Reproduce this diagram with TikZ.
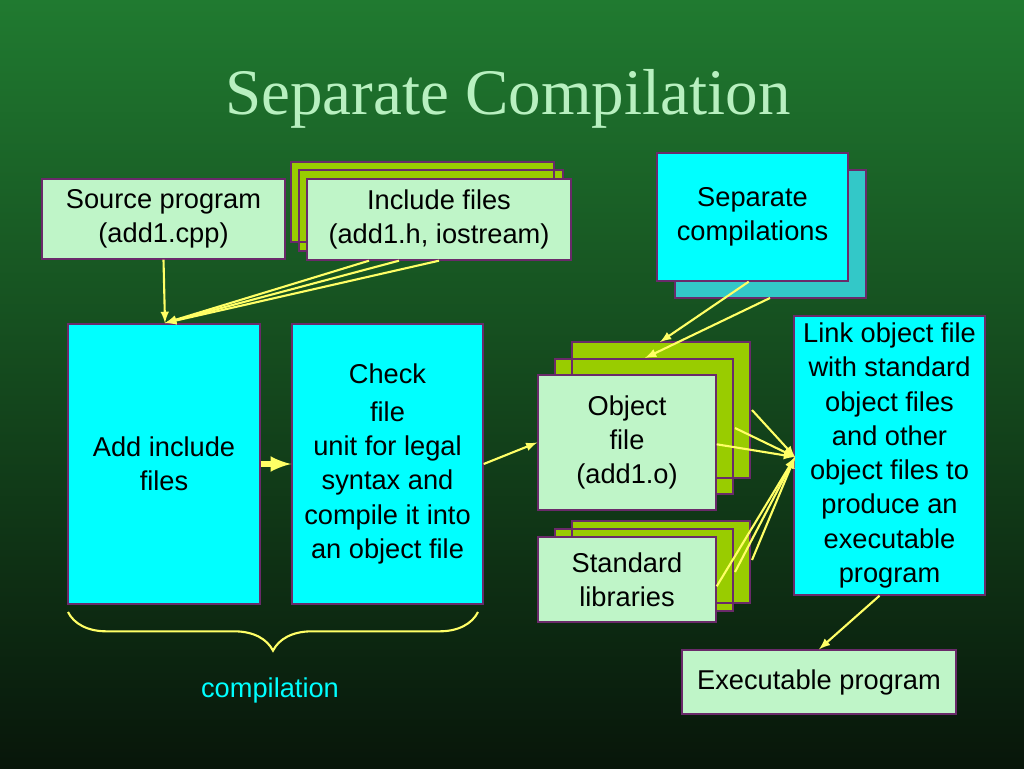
\documentclass[tikz,border=0pt]{standalone}
\usepackage{fontspec}
\setmainfont{Liberation Sans}
\newfontfamily\titlefont{Liberation Serif}
\usetikzlibrary{positioning, decorations.pathreplacing}
\definecolor{paleg}{HTML}{BFF5C8}
\definecolor{cyanfill}{HTML}{00FFFF}
\definecolor{olivegreen}{HTML}{99CC00}
\definecolor{tealbox}{HTML}{33C8C8}
\definecolor{edgepurple}{HTML}{6A2A6A}
\definecolor{arrowyellow}{HTML}{FFFF66}
\definecolor{titlegreen}{HTML}{B8F0C0}
\tikzset{
  box/.style={draw=edgepurple, line width=0.8pt, align=center, inner sep=2pt,
    font=\fontsize{15.5}{19.5}\selectfont},
  pale/.style={box, fill=paleg},
  cyanbox/.style={box, fill=cyanfill},
  backbox/.style={draw=edgepurple, line width=0.8pt, fill=olivegreen},
  link/.style={draw=arrowyellow, line width=1.2pt, -latex}
}
\begin{document}
\begin{tikzpicture}[x=0.02cm, y=-0.02cm]
    % background
    \shade[top color={rgb,255:red,32;green,122;blue,48}, bottom color={rgb,255:red,8;green,22;blue,10}]
          (0,0) rectangle (1024,768);
    \useasboundingbox (0,0) rectangle (1024,768);

    \node[text=titlegreen, font=\titlefont\fontsize{37}{42}\selectfont] (title) at (508,99) {Separate Compilation};

    % top row
    \node[pale, minimum width=4.86cm, minimum height=1.6cm] (src) at (163.5,219) {Source program\\(add1.cpp)};
    \path[backbox] (291,162) rectangle (554,242)
                   (299,170) rectangle (563,251);
    \node[pale, minimum width=5.28cm, minimum height=1.62cm] (inc) at (439,219.5) {Include files\\(add1.h, iostream)};
    \path[draw=edgepurple, line width=0.8pt, fill=tealbox] (675,170) rectangle (866,298);
    \node[cyanbox, minimum width=3.82cm, minimum height=2.56cm] (sep) at (752.5,217) {Separate\\compilations};

    % middle row
    \node[cyanbox, minimum width=3.84cm, minimum height=5.6cm] (add) at (164,464) {Add include\\files};
    \node[cyanbox, minimum width=3.82cm, minimum height=5.6cm, align=center] (chk) at (387.5,464)
         {Check\\[2pt]file\\unit for legal\\syntax and\\compile it into\\an object file};
    \path[backbox] (572,342) rectangle (750,478)
                   (555,359) rectangle (733,494)
                   (572,521) rectangle (750,603)
                   (555,529) rectangle (733,611);
    \node[pale, minimum width=3.56cm, minimum height=2.7cm] (obj) at (627,442.5) {Object\\file\\(add1.o)};
    \node[pale, minimum width=3.56cm, minimum height=1.7cm] (lib) at (627,579.5) {Standard\\libraries};
    \node[cyanbox, minimum width=3.82cm, minimum height=5.58cm] (lnk) at (889.5,455.5)
         {Link object file\\with standard\\object files\\and other\\object files to\\produce an\\executable\\program};
    \node[pale, minimum width=5.48cm, minimum height=1.28cm] (exe) at (819,682) {Executable program};

    % brace
    \draw[arrowyellow, line width=1.2pt, decorate, decoration={brace, mirror, amplitude=22pt}]
         (68,612) -- (478,612);
    \node[text=cyanfill, font=\fontsize{15.5}{18}\selectfont] (cmp) at (270,690) {compilation};

    % connectors
    \coordinate (addtop) at (165,323);
    \draw[link] (src.south) -- (addtop);
    \draw[link] ([xshift=-1.4cm]inc.south) -- (addtop);
    \draw[link] ([xshift=-0.8cm]inc.south) -- (addtop);
    \draw[link] ([xshift=0cm]inc.south) -- (addtop);
    \draw[draw=arrowyellow, line width=3pt, -latex] (add.east) -- (chk.west);
    \draw[link] (chk.east) -- ([yshift=0cm]obj.west);
    \coordinate (objtop1) at (660,342);
    \coordinate (objtop2) at (645,358);
    \draw[link] ([xshift=-2cm]sep.south east) -- (objtop1);
    \draw[link] (770,298) -- (objtop2);
    \coordinate (lnkin) at (795,457);
    \draw[link] ([yshift=-1.4cm]obj.north east) -- (lnkin);
    \draw[link] (735,428) -- (lnkin);
    \draw[link] (752,410) -- (lnkin);
    \draw[link] ([yshift=-1cm]lib.north east) -- (lnkin);
    \draw[link] (735,572) -- (lnkin);
    \draw[link] (752,560) -- (lnkin);
    \draw[link] ([xshift=-0.2cm]lnk.south) -- (exe.north);
\end{tikzpicture}
\end{document}
